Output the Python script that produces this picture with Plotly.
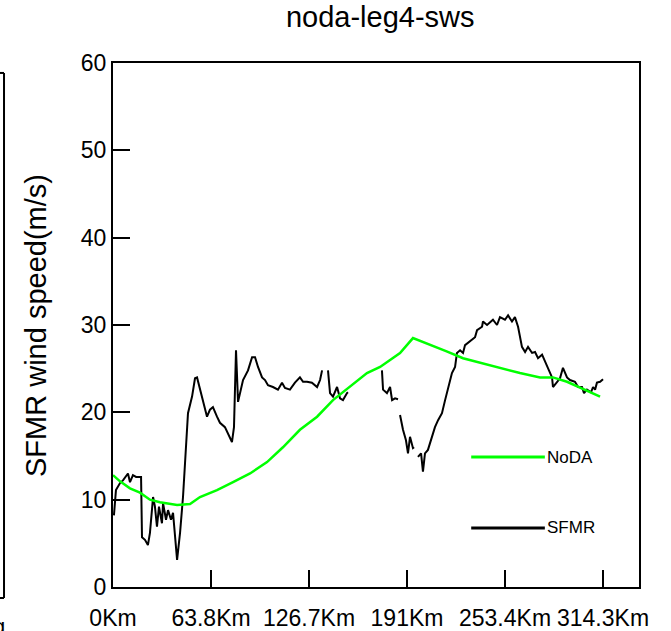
import numpy as np
import plotly.graph_objects as go

# ---------------- data ----------------
tick_labels = ["0Km", "63.8Km", "126.7Km", "191Km", "253.4Km", "314.3Km"]
track_end = 314.3

# NoDA model wind speed along track
noda_x = [0, 4.5, 10.9, 17.3, 23.7, 30.1, 41.1, 49.4, 55.8, 66.7, 77.0, 87.9,
          98.8, 109.0, 119.9, 130.9, 141.1, 152.0, 162.9, 171.3, 184.1, 192.4,
          196.9, 203.3, 213.6, 224.5, 235.4, 246.3, 261.0, 273.9, 282.2, 291.2,
          302.7, 312.4]
noda_y = [12.8, 12.1, 11.3, 10.8, 10.0, 9.7, 9.4, 9.5, 10.3, 11.1, 12.0, 13.0,
          14.3, 16.0, 18.0, 19.5, 21.4, 22.9, 24.5, 25.2, 26.8, 28.5,
          28.2, 27.7, 27.0, 26.2, 25.7, 25.2, 24.5, 24.0, 24.0, 23.5,
          22.6, 21.8]

# SFMR observed wind speed, segments separated by data gaps
sfmr_seg1_x = [0.6, 1.9, 4.5, 6.4, 9.6, 10.9, 12.8, 14.8, 18.0, 18.6, 20.5, 22.4,
               23.7, 25.7, 26.9, 28.2, 29.5, 31.4, 32.1, 34.0, 35.3, 37.2, 38.5,
               39.8, 41.1, 43.0, 44.9, 46.2, 48.1, 50.7, 52.6, 53.9, 55.8, 57.7,
               60.3, 62.2, 64.1, 66.7, 68.6, 71.8, 73.8, 76.3, 77.6, 78.9, 80.2,
               83.4, 86.6, 89.2, 91.1, 93.0, 95.6, 97.5, 99.4, 102.6, 105.8,
               108.4, 110.3, 113.5, 116.7, 119.9, 121.9, 124.4, 127.6, 130.9,
               132.8, 134.1]
sfmr_seg1_y = [8.2, 11.1, 11.9, 12.2, 13.0, 12.0, 12.8, 12.6, 12.6, 5.7, 5.4, 4.8,
               6.2, 10.3, 9.2, 6.9, 9.2, 7.3, 9.6, 7.7, 8.8, 7.7, 8.5,
               5.7, 3.1, 6.2, 10.3, 14.2, 19.9, 21.8, 23.9, 24.0, 22.6, 21.1,
               19.5, 20.3, 20.6, 19.5, 18.8, 18.3, 17.6, 16.6, 18.3, 27.1, 21.2,
               23.7, 24.8, 26.3, 26.3, 25.2, 24.0, 23.7, 23.1, 22.9, 22.6,
               23.4, 22.8, 22.6, 23.4, 24.0, 23.5, 23.5, 23.4, 22.9,
               23.7, 24.8]
sfmr_seg2_x = [137.9, 139.2, 141.1, 143.7, 145.6, 147.5, 150.1, 150.7]
sfmr_seg2_y = [24.8, 22.2, 21.8, 22.9, 21.6, 21.4, 22.2, 22.3]
sfmr_seg3_x = [172.5, 173.2, 175.7, 177.7, 179.0, 180.9, 182.8]
sfmr_seg3_y = [24.8, 22.6, 22.2, 22.9, 21.4, 21.6, 21.5]
sfmr_seg4_x = [184.1, 186.0, 187.9, 189.2, 190.5, 192.4, 193.1]
sfmr_seg4_y = [19.7, 18.0, 16.8, 15.3, 17.2, 15.9, 16.0]
sfmr_seg5_x = [195.6, 197.6, 198.8, 200.1, 202.0, 204.6, 206.5, 208.5, 211.0,
               213.0, 214.9, 217.4, 219.4, 220.6, 222.6, 224.5, 225.8, 229.0,
               232.2, 233.5, 236.7, 237.3, 239.9, 243.7, 246.3, 248.2, 251.4,
               253.4, 255.9, 257.8, 259.8, 262.3, 264.3, 266.2, 268.8, 270.7,
               272.6, 275.2, 277.1, 279.0, 281.6, 282.2, 284.8, 286.7, 288.6,
               291.2, 293.1, 296.3, 298.3, 300.8, 302.1, 304.0, 306.6, 307.9,
               309.2, 310.4, 312.4, 314.3]
sfmr_seg5_y = [14.9, 15.3, 13.2, 15.3, 15.7, 17.2, 18.3, 19.1, 19.9,
               21.4, 22.9, 24.5, 25.2, 26.8, 27.1, 26.8, 27.7, 28.1,
               28.6, 29.4, 29.8, 30.4, 30.0, 30.6, 30.0, 30.9, 30.6,
               31.1, 30.4, 30.9, 29.8, 27.5, 26.9, 27.5, 26.8, 26.9,
               26.2, 26.6, 25.8, 25.2, 24.0, 22.9, 23.5, 23.9, 25.1,
               24.0, 23.7, 23.5, 22.9, 22.9, 22.2, 22.6, 22.3, 22.9,
               22.6, 23.4, 23.5, 23.8]

segments = [(sfmr_seg1_x, sfmr_seg1_y), (sfmr_seg2_x, sfmr_seg2_y),
            (sfmr_seg3_x, sfmr_seg3_y), (sfmr_seg4_x, sfmr_seg4_y),
            (sfmr_seg5_x, sfmr_seg5_y)]
sfmr_x, sfmr_y = [], []
for sx, sy in segments:
    sfmr_x += list(sx) + [None]
    sfmr_y += list(sy) + [None]

FONT = "Liberation Sans, Arial, Helvetica, sans-serif"

fig = go.Figure()
fig.add_trace(go.Scatter(x=sfmr_x, y=sfmr_y, mode="lines", name="SFMR",
                         line=dict(color="black", width=2), connectgaps=False,
                         showlegend=False))
fig.add_trace(go.Scatter(x=noda_x, y=noda_y, mode="lines", name="NoDA",
                         line=dict(color="#00ff00", width=2.5),
                         showlegend=False))

tickvals = list(np.linspace(0, track_end, len(tick_labels)))

fig.update_xaxes(range=[0, track_end * 5.367 / 5], tickmode="array",
                 tickvals=tickvals, ticktext=tick_labels,
                 ticks="inside", ticklen=17, tickwidth=2, tickcolor="black",
                 ticklabelstandoff=9, automargin=False,
                 showline=True, linecolor="black", linewidth=2, mirror=True,
                 showgrid=False, zeroline=False,
                 tickfont=dict(family=FONT, size=23, color="black"))
fig.update_yaxes(range=[0, 60], tickmode="array",
                 tickvals=[0, 10, 20, 30, 40, 50, 60],
                 ticks="inside", ticklen=17, tickwidth=2, tickcolor="black",
                 automargin=False,
                 showline=True, linecolor="black", linewidth=2, mirror=True,
                 showgrid=False, zeroline=False,
                 tickfont=dict(family=FONT, size=23, color="black"))

# in-plot legend (NCL style)
shapes = [
    dict(type="line", xref="paper", yref="paper", x0=0.681, x1=0.821,
         y0=0.248, y1=0.248, line=dict(color="#00ff00", width=3)),
    dict(type="line", xref="paper", yref="paper", x0=0.681, x1=0.821,
         y0=0.1126, y1=0.1126, line=dict(color="black", width=3)),
    # edge of neighbouring panel (cropped)
    dict(type="line", xref="paper", yref="paper", x0=-0.2072, x1=-0.2072,
         y0=0.981, y1=-0.021, line=dict(color="black", width=2)),
    dict(type="line", xref="paper", yref="paper", x0=-0.216, x1=-0.2072,
         y0=0.981, y1=0.981, line=dict(color="black", width=2)),
    dict(type="line", xref="paper", yref="paper", x0=-0.216, x1=-0.2072,
         y0=-0.021, y1=-0.021, line=dict(color="black", width=2)),
]
annotations = [
    dict(text="SFMR wind speed(m/s)", xref="paper", yref="paper",
         x=-0.1464, y=0.5, xanchor="center", yanchor="middle",
         textangle=-90, showarrow=False,
         font=dict(family=FONT, size=29, color="black")),
    dict(text="NoDA", xref="paper", yref="paper", x=0.821, y=0.248,
         xanchor="left", yanchor="middle", showarrow=False,
         font=dict(family=FONT, size=17, color="black")),
    dict(text="SFMR", xref="paper", yref="paper", x=0.821, y=0.1126,
         xanchor="left", yanchor="middle", showarrow=False,
         font=dict(family=FONT, size=17, color="black")),
    dict(text="g", xref="paper", yref="paper", x=-0.2015, y=-0.075,
         xanchor="right", yanchor="middle", showarrow=False,
         font=dict(family=FONT, size=22, color="black")),
]

fig.update_layout(
    width=671, height=631,
    margin=dict(l=113, r=32, t=63, b=44),
    paper_bgcolor="white", plot_bgcolor="white",
    title=dict(text="noda-leg4-sws", x=0.508, xref="paper", xanchor="center",
               y=1 - 17 / 631, yref="container", yanchor="middle",
               font=dict(family=FONT, size=29, color="black")),
    shapes=shapes, annotations=annotations,
)

fig.write_html("out.html")
